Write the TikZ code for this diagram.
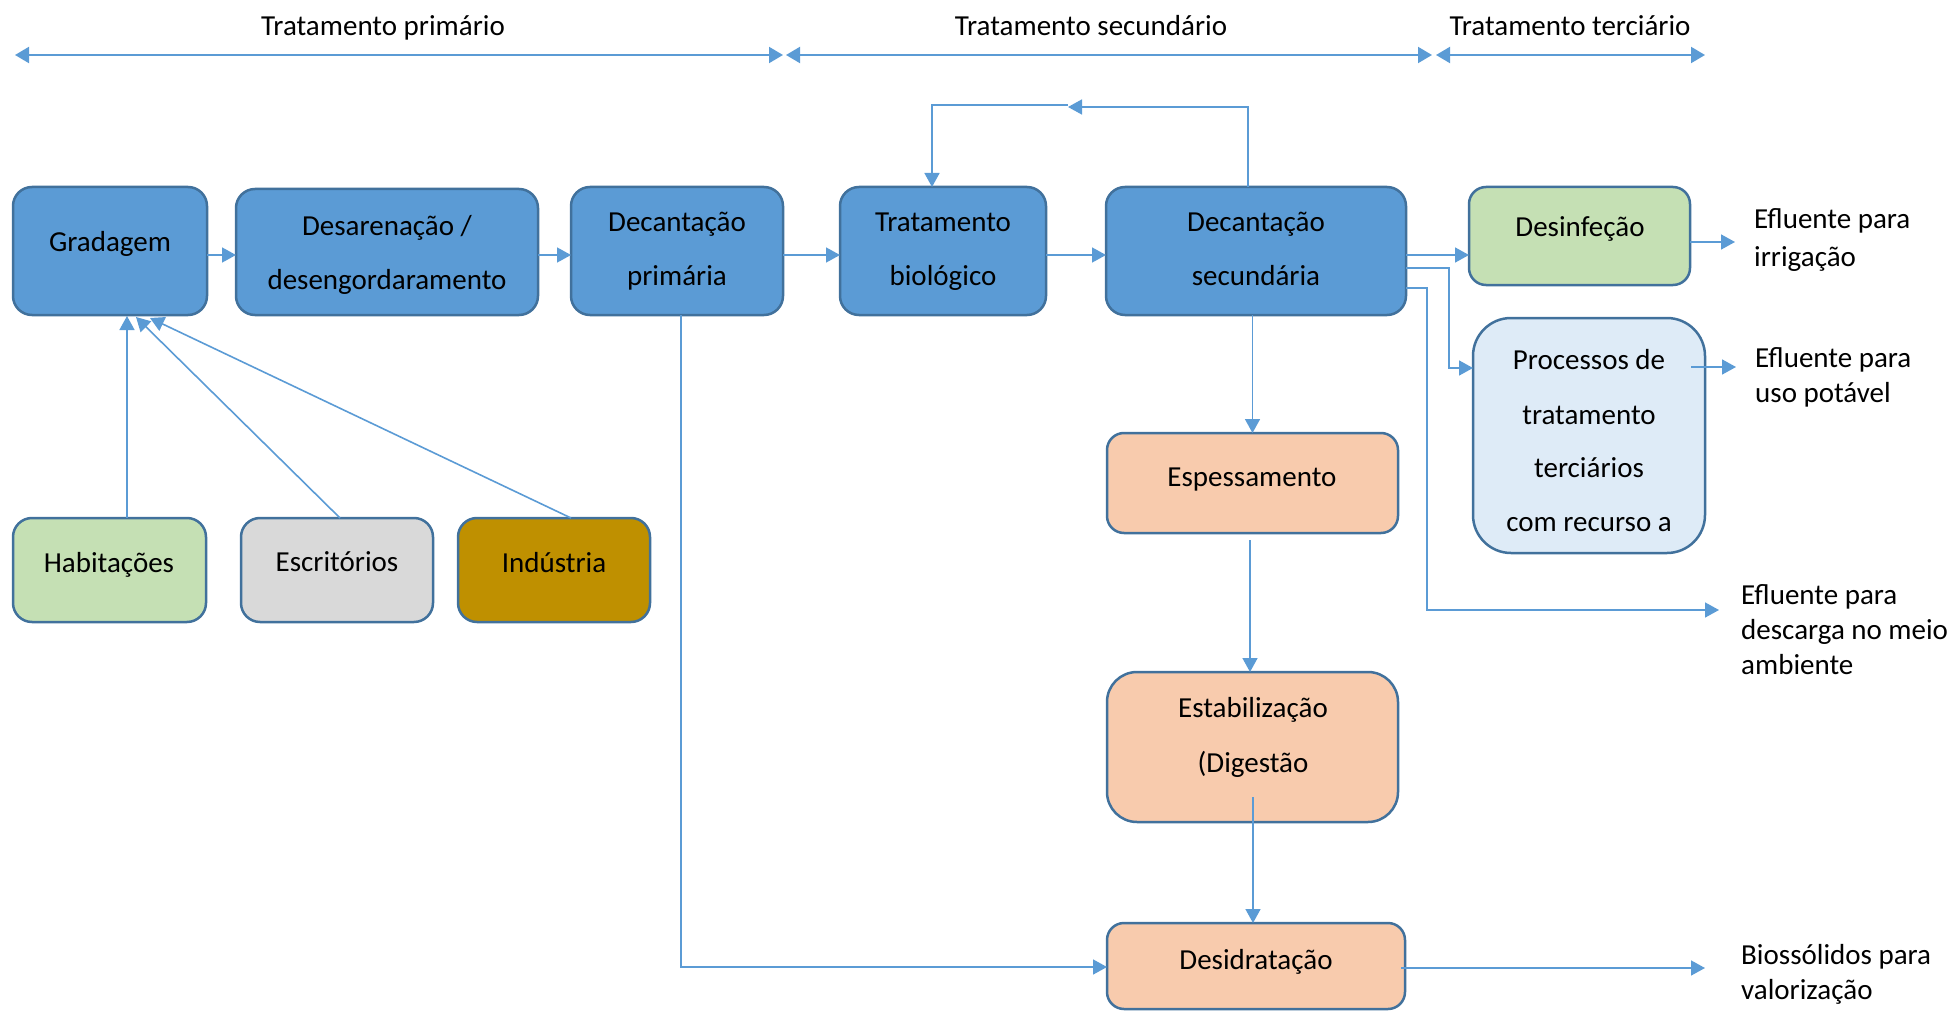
\documentclass[tikz,border=0pt]{standalone}
\usepackage{fontspec}
\setmainfont{Carlito}
\usetikzlibrary{arrows.meta}
\definecolor{bluefill}{HTML}{5B9BD5}
\definecolor{boxline}{HTML}{41719C}
\definecolor{conn}{HTML}{5B9BD5}
\definecolor{greenfill}{HTML}{C5E0B4}
\definecolor{grayfill}{HTML}{D9D9D9}
\definecolor{goldfill}{HTML}{BF9000}
\definecolor{peachfill}{HTML}{F8CBAD}
\definecolor{lightbluefill}{HTML}{DEEBF7}
\begin{document}
\begin{tikzpicture}[x=1pt,y=-1pt,
  box/.style={draw=boxline, line width=2.5pt, rounded corners=19pt, inner sep=0pt, outer sep=0pt},
  txt/.style={anchor=base, inner sep=0pt, font=\fontsize{29}{36}\selectfont},
  ltxt/.style={anchor=base west, inner sep=0pt, font=\fontsize{29}{36}\selectfont},
  arr/.style={draw=conn, line width=1.6pt, -{Triangle[length=14pt,width=15pt]}},
  darr/.style={draw=conn, line width=2pt, {Triangle[length=14pt,width=16pt]}-{Triangle[length=14pt,width=16pt]}},
  ln/.style={draw=conn, line width=1.6pt}]
\useasboundingbox (0,0) rectangle (1955,1011);

% Phase headers
\node[txt] (hPrim) at (383,36) {Tratamento primário};
\node[txt] (hSec) at (1091,36) {Tratamento secundário};
\node[txt] (hTer) at (1570,36) {Tratamento terciário};
\coordinate (p1a) at (15,55); \coordinate (p1b) at (783,55);
\coordinate (p2a) at (786,55); \coordinate (p2b) at (1432,55);
\coordinate (p3a) at (1436,55); \coordinate (p3b) at (1705,55);
\draw[darr] (p1a) -- (p1b);
\draw[darr] (p2a) -- (p2b);
\draw[darr] (p3a) -- (p3b);

% Boxes
\node[box, fill=bluefill, minimum width=194pt, minimum height=128pt] (grad) at (110,251) {};
\node[box, fill=bluefill, minimum width=302pt, minimum height=126pt] (desar) at (387,252) {};
\node[box, fill=bluefill, minimum width=212pt, minimum height=128pt] (decp) at (677,251) {};
\node[box, fill=bluefill, minimum width=206pt, minimum height=128pt] (bio) at (943,251) {};
\node[box, fill=bluefill, minimum width=300pt, minimum height=128pt] (decs) at (1256,251) {};
\node[box, fill=greenfill, rounded corners=17pt, minimum width=221pt, minimum height=98pt] (desinf) at (1579.5,236) {};
\node[box, fill=lightbluefill, rounded corners=38pt, minimum width=232pt, minimum height=235pt] (proc) at (1589,435.5) {};
\node[box, fill=peachfill, rounded corners=17pt, minimum width=291pt, minimum height=100pt] (esp) at (1252.5,483) {};
\node[box, fill=peachfill, rounded corners=30pt, minimum width=291pt, minimum height=150pt] (estab) at (1252.5,747) {};
\node[box, fill=peachfill, rounded corners=17pt, minimum width=298pt, minimum height=86pt] (desid) at (1256,966) {};
\node[box, fill=greenfill, minimum width=193pt, minimum height=104pt] (hab) at (109.5,570) {};
\node[box, fill=grayfill, minimum width=192pt, minimum height=104pt] (escr) at (337,570) {};
\node[box, fill=goldfill, minimum width=192pt, minimum height=104pt] (ind) at (554,570) {};

% Box texts
\node[txt] (tGrad) at (110,252) {Gradagem};
\node[txt] (tDesar1) at (387,236) {Desarenação /};
\node[txt] (tDesar2) at (387,289) {desengordaramento};
\node[txt] (tDecp1) at (677,232) {Decantação};
\node[txt] (tDecp2) at (677,286) {primária};
\node[txt] (tBio1) at (943,232) {Tratamento};
\node[txt] (tBio2) at (943,286) {biológico};
\node[txt] (tDecs1) at (1256,232) {Decantação};
\node[txt] (tDecs2) at (1256,286) {secundária};
\node[txt] (tDesinf) at (1580,237) {Desinfeção};
\node[txt] (tProc1) at (1589,369) {Processos de};
\node[txt] (tProc2) at (1589,424) {tratamento};
\node[txt] (tProc3) at (1589,477) {terciários};
\node[txt] (tProc4) at (1589,531) {com recurso a};
\node[txt] (tEsp) at (1252,486) {Espessamento};
\node[txt] (tEstab1) at (1253,717) {Estabilização};
\node[txt] (tEstab2) at (1253,772) {(Digestão};
\node[txt] (tDesid) at (1256,969) {Desidratação};
\node[txt] (tHab) at (109,572) {Habitações};
\node[txt] (tEscr) at (337,571) {Escritórios};
\node[txt] (tInd) at (554,572) {Indústria};

% Output labels
\node[ltxt] (oIrr1) at (1754,229) {Efluente para};
\node[ltxt] (oIrr2) at (1754,266) {irrigação};
\node[ltxt] (oPot1) at (1755,367) {Efluente para};
\node[ltxt] (oPot2) at (1755,402) {uso potável};
\node[ltxt] (oDes1) at (1741,604) {Efluente para};
\node[ltxt] (oDes2) at (1741,639) {descarga no meio};
\node[ltxt] (oDes3) at (1741,674) {ambiente};
\node[ltxt] (oBio1) at (1741,964) {Biossólidos para};
\node[ltxt] (oBio2) at (1741,999) {valorização};

% Main line connectors
\draw[arr] (grad.east |- 0,255) -- (desar.west |- 0,255);
\draw[arr] (desar.east |- 0,255) -- (decp.west |- 0,255);
\draw[arr] (decp.east |- 0,255) -- (bio.west |- 0,255);
\draw[arr] (bio.east |- 0,255) -- (decs.west |- 0,255);
\draw[arr] (decs.east |- 0,255) -- (desinf.west |- 0,255);

% Recirculation loop
\coordinate (loopR) at (1248,107);
\coordinate (loopM) at (1068,107);
\coordinate (loopL) at (932,105);
\draw[arr] (decs.north -| loopR) -- (loopR) -- (loopM);
\draw[arr] (1068,105) -- (loopL) -- (bio.north -| loopL);

% Sources to Gradagem
\draw[arr] (hab.north -| 127,0) -- (127,316);
\draw[arr] (escr.north -| 340,0) -- (136,317);
\draw[arr] (ind.north -| 571,0) -- (150,318);

% Tertiary branches
\coordinate (brP) at (1449,268);
\draw[arr] (decs.east |- brP) -- (brP) |- (proc.west |- 0,368);
\coordinate (brD) at (1427,288);
\coordinate (outDesc) at (1719,610);
\draw[arr] (decs.east |- brD) -- (brD) |- (outDesc);
\coordinate (outIrr) at (1735,242);
\draw[arr] (desinf.east |- outIrr) -- (outIrr);
\coordinate (outPot) at (1736,367);
\draw[arr] (1691,367) -- (outPot);

% Sludge line
\draw[arr] (esp.north |- decs.south) -- (esp.north);
\draw[arr] (1250,540) -- (estab.north -| 1250,0);
\draw[arr] (1253,797) -- (desid.north -| 1253,0);
\draw[arr] ([xshift=4pt]decp.south) |- (desid.west |- 0,967);
\coordinate (outBio) at (1705,968);
\draw[arr] (1401,968) -- (outBio);
\end{tikzpicture}
\end{document}
